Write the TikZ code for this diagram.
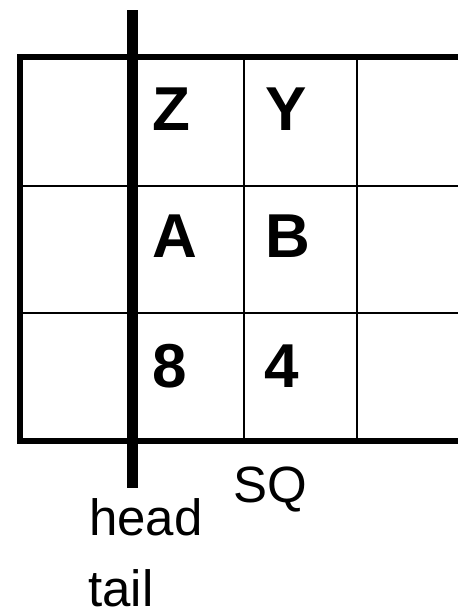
\documentclass[tikz,border=0pt]{standalone}
\usepackage{fontspec}
\setmainfont{Liberation Sans}

\begin{document}
\begin{tikzpicture}[x=1pt,y=-1pt,line join=miter]
\tikzset{
  frameline/.style={line width=6pt},
  cellline/.style={line width=2pt},
  ptrbar/.style={line width=11pt},
  cellchar/.style={anchor=base west,inner sep=0pt,font=\fontsize{62}{62}\selectfont\bfseries},
  lbl/.style={anchor=base west,inner sep=0pt,font=\fontsize{51}{51}\selectfont}}
\useasboundingbox (0,0) rectangle (458,614);
% ---------- table ----------
\draw[cellline] (20,186) -- (458,186);
\draw[cellline] (20,313) -- (458,313);
\draw[cellline] (244,57) -- (244,441);
\draw[cellline] (357,57) -- (357,441);
\draw[frameline] (458,57) -- (20,57) -- (20,441) -- (458,441);
% ---------- cell contents ----------
\node[cellchar] (z) at (152,130) {Z};
\node[cellchar] (y) at (265,130) {Y};
\node[cellchar] (a) at (152,257) {A};
\node[cellchar] (b) at (265,257) {B};
\node[cellchar] (n8) at (152,387) {8};
\node[cellchar] (n4) at (264,387) {4};
% ---------- pointer bar ----------
\draw[ptrbar] (132.5,10) -- (132.5,488);
% ---------- labels ----------
\node[lbl] (sq) at (233,502) {SQ};
\node[lbl] (head) at (89,535) {head};
\node[lbl] (tail) at (88,606) {tail};
\end{tikzpicture}
\end{document}
